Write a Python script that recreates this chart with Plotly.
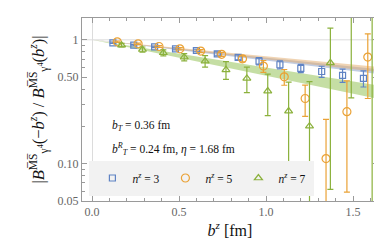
import math
import plotly.graph_objects as go

# ---- data ----
bz = [0.12, 0.24, 0.36, 0.48, 0.60, 0.72, 0.84, 0.96, 1.08, 1.20, 1.32, 1.44, 1.56]

n3_val = [0.946, 0.906, 0.878, 0.846, 0.820, 0.771, 0.722, 0.673, 0.629, 0.589, 0.555, 0.517, 0.489]
n3_err = [0.012, 0.012, 0.013, 0.015, 0.020, 0.027, 0.032, 0.045, 0.047, 0.045, 0.057, 0.064, 0.073]

n5_val = [0.963, 0.928, 0.883, 0.846, 0.811, 0.764, 0.703, 0.614, 0.503, 0.336, 0.110, 0.263, 0.726]
n5_err = [0.012, 0.014, 0.016, 0.018, 0.022, 0.028, 0.039, 0.067, 0.073, 0.095, 0.118, 0.204, 0.390]

n7_val = [0.906, 0.835, 0.786, 0.725, 0.673, 0.573, 0.488, 0.386, 0.266, 0.201, 0.652, 1.80, 1.70]
n7_err = [0.030, 0.040, 0.045, 0.050, 0.072, 0.093, 0.113, 0.142, 0.190, 0.258, 0.590, 1.46, 2.00]

# fit bands (edges read at a few b^z nodes)
band_b = [0.0, 0.81, 1.62]
band3_hi = [1.0, 0.765, 0.585]
band3_lo = [1.0, 0.731, 0.535]
band5_hi = [1.0, 0.781, 0.610]
band5_lo = [1.0, 0.745, 0.555]
band7_hi = [1.0, 0.658, 0.433]
band7_lo = [1.0, 0.582, 0.339]

x_ticks = [0.0, 0.5, 1.0, 1.5]
x_ticktext = ["0.0", "0.5", "1.0", "1.5"]
y_ticks = [0.05, 0.1, 0.5, 1.0]
y_ticktext = ["0.05", "0.10", "0.50", "1"]
y_minor = [0.06, 0.07, 0.08, 0.09, 0.2, 0.3, 0.4, 0.6, 0.7, 0.8, 0.9]

x_range = [-0.0575, 1.6437]
y_lim = [0.05, 1.5]

# ---- styles ----
BLUE = "#5f83c4"
ORANGE = "#eaa236"
GREEN = "#8bb13c"
SERIF = "Liberation Serif"

fig = go.Figure()

# reference line at 1
fig.add_trace(go.Scatter(x=x_range, y=[1, 1], mode="lines",
                         line=dict(color="#dcdcdc", width=1),
                         showlegend=False, hoverinfo="skip"))


def band(lo, hi, color):
    fig.add_trace(go.Scatter(x=band_b + band_b[::-1], y=hi + lo[::-1],
                             fill="toself", fillcolor=color, mode="lines",
                             line=dict(width=0), showlegend=False, hoverinfo="skip"))


band(band7_lo, band7_hi, "rgba(150,195,90,0.55)")
band(band3_lo, band3_hi, "rgba(120,145,190,0.45)")
band(band5_lo, band5_hi, "rgba(225,170,105,0.5)")

series = [
    ("<i>n</i><sup><i>z</i></sup> = 3", 0.0, n3_val, n3_err, BLUE, "square-open", 6),
    ("<i>n</i><sup><i>z</i></sup> = 5", 0.025, n5_val, n5_err, ORANGE, "circle-open", 8),
    ("<i>n</i><sup><i>z</i></sup> = 7", 0.05, n7_val, n7_err, GREEN, "triangle-up-open", 7),
]
for name, shift, val, err, col, sym, sz in series:
    fig.add_trace(go.Scatter(
        x=[b + shift for b in bz], y=val, mode="markers", name=name,
        marker=dict(symbol=sym, size=sz, color=col, line=dict(color=col, width=1.2)),
        error_y=dict(type="data", array=err, color=col, thickness=1.2, width=3),
    ))

axis_common = dict(showline=True, linecolor="#9a9a9a", linewidth=1, mirror="ticks",
                   ticks="inside", ticklen=5, tickcolor="#9a9a9a", showgrid=False,
                   tickfont=dict(family=SERIF, size=12, color="#666666"))

fig.update_xaxes(range=x_range, tickmode="array", tickvals=x_ticks, ticktext=x_ticktext,
                 zeroline=True, zerolinecolor="#dcdcdc", zerolinewidth=1,
                 minor=dict(ticks="inside", dtick=0.1, ticklen=3, tickcolor="#9a9a9a"),
                 title=dict(text="<i>b</i><sup><i>z</i></sup> [fm]", standoff=6,
                            font=dict(family=SERIF, size=16, color="#111111")),
                 **axis_common)
fig.update_yaxes(type="log", range=[math.log10(y_lim[0]), math.log10(y_lim[1])],
                 tickmode="array", tickvals=y_ticks, ticktext=y_ticktext,
                 minor=dict(ticks="inside", tickvals=y_minor, ticklen=3, tickcolor="#9a9a9a"),
                 title=dict(text="|<i>B</i><sup>M\u0305S\u0305</sup><sub>γ<sup>4</sup></sub>(−<i>b</i><sup><i>z</i></sup>) / "
                                 "<i>B</i><sup>M\u0305S\u0305</sup><sub>γ<sup>4</sup></sub>(<i>b</i><sup><i>z</i></sup>)|",
                            standoff=8, font=dict(family=SERIF, size=16.5, color="#111111")),
                 **axis_common)

fig.add_annotation(xref="paper", yref="paper", x=0.093, y=0.41, xanchor="left", yanchor="middle",
                   text="<i>b</i><sub><i>T</i></sub> = 0.36 fm", showarrow=False,
                   font=dict(family=SERIF, size=11.5, color="#111111"))
fig.add_annotation(xref="paper", yref="paper", x=0.093, y=0.285, xanchor="left", yanchor="middle",
                   text="<i>b</i><sup><i>R</i></sup><sub><i>T</i></sub> = 0.24 fm, <i>η</i> = 1.68 fm",
                   showarrow=False, font=dict(family=SERIF, size=11.5, color="#111111"))

fig.update_layout(
    width=382, height=243,
    margin=dict(l=74, r=12, t=10, b=50),
    plot_bgcolor="white", paper_bgcolor="white",
    font=dict(family=SERIF),
    legend=dict(orientation="h", x=0.025, y=0.03, xanchor="left", yanchor="bottom",
                bgcolor="#f2f2f2", bordercolor="#f2f2f2", borderwidth=3,
                entrywidth=28, entrywidthmode="pixels",
                itemwidth=30, font=dict(family=SERIF, size=11.5, color="#111111")),
)

fig.write_html("out.html")
